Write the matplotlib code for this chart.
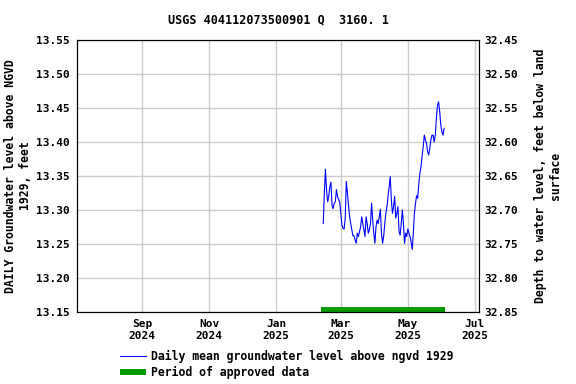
import pandas as pd
import matplotlib
matplotlib.use('Agg')
import matplotlib.pyplot as plt
import matplotlib.dates as mdates

plt.rcParams['font.family'] = 'DejaVu Sans Mono'
plt.rcParams['font.weight'] = 'bold'
plt.rcParams['axes.labelweight'] = 'bold'
plt.rcParams['axes.titleweight'] = 'bold'
plt.rcParams['font.size'] = 8

# daily mean groundwater level (ft above NGVD 1929), starting 2025-02-13
start_date = '2025-02-13'
levels = [
    13.280, 13.325, 13.360, 13.329, 13.312, 13.320, 13.334, 13.341, 13.307, 13.302,
    13.310, 13.312, 13.330, 13.320, 13.315, 13.312, 13.295, 13.278, 13.273, 13.272,
    13.288, 13.342, 13.325, 13.307, 13.290, 13.280, 13.271, 13.262, 13.262, 13.256,
    13.251, 13.266, 13.261, 13.268, 13.275, 13.290, 13.280, 13.271, 13.261, 13.290,
    13.280, 13.266, 13.271, 13.280, 13.310, 13.285, 13.266, 13.251, 13.275, 13.285,
    13.280, 13.290, 13.301, 13.266, 13.251, 13.261, 13.280, 13.295, 13.305, 13.320,
    13.334, 13.349, 13.315, 13.295, 13.305, 13.320, 13.288, 13.295, 13.305, 13.268,
    13.263, 13.280, 13.300, 13.280, 13.251, 13.266, 13.261, 13.272, 13.266, 13.261,
    13.253, 13.242, 13.266, 13.295, 13.310, 13.321, 13.317, 13.339, 13.354, 13.364,
    13.379, 13.393, 13.410, 13.403, 13.398, 13.386, 13.381, 13.391, 13.403, 13.410,
    13.410, 13.400, 13.410, 13.435, 13.454, 13.459, 13.445, 13.425, 13.415, 13.410,
    13.420,
]
dates = pd.date_range(start_date, periods=len(levels), freq='D')

approved_start = pd.Timestamp('2025-02-11')
approved_end = pd.Timestamp('2025-06-04')

land_offset = 46.0  # depth = land_offset - level
x_min, x_max = pd.Timestamp('2024-07-04'), pd.Timestamp('2025-07-05')
y_ticks = [13.15, 13.20, 13.25, 13.30, 13.35, 13.40, 13.45, 13.50, 13.55]
depth_ticks = [32.45, 32.50, 32.55, 32.60, 32.65, 32.70, 32.75, 32.80, 32.85]
x_ticks = ['2024-09-01', '2024-11-01', '2025-01-01', '2025-03-01', '2025-05-01', '2025-07-01']

fig = plt.figure(figsize=(5.76, 3.84), dpi=100)
ax = fig.add_axes([0.134, 0.1875, 0.698, 0.7085])

ax.plot(dates, levels, color='#0000ff', lw=0.8, label='Daily mean groundwater level above ngvd 1929')
ax.plot([approved_start, approved_end], [13.1533, 13.1533], color='#009900', lw=4.3,
        solid_capstyle='butt', label='Period of approved data')

ax.set_xlim(x_min, x_max)
ax.set_ylim(13.15, 13.55)
ax.set_yticks(y_ticks)
ax.set_yticklabels([f'{v:.2f}' for v in y_ticks])
ax.set_xticks(pd.to_datetime(x_ticks))
ax.xaxis.set_major_formatter(mdates.DateFormatter('%b\n%Y'))
ax.grid(True, color='#cccccc', lw=1)
ax.tick_params(length=0, pad=5)
ax.set_ylabel('DAILY Groundwater level above NGVD\n1929, feet', fontsize=8.3, labelpad=3)
ax.set_title('USGS 404112073500901 Q  3160. 1', fontsize=8.5, pad=12)

ax2 = ax.twinx()
ax2.set_ylim(land_offset - 13.15, land_offset - 13.55)
ax2.set_yticks(depth_ticks)
ax2.set_yticklabels([f'{v:.2f}' for v in depth_ticks])
ax2.tick_params(length=0, pad=4)
ax2.set_ylabel('Depth to water level, feet below land\nsurface', fontsize=8.3, labelpad=11)

handles, labels = ax.get_legend_handles_labels()
fig.legend(handles, labels, loc='upper left', bbox_to_anchor=(0.2, 0.1), frameon=False,
           handlelength=2.3, handletextpad=0.4, borderaxespad=0, labelspacing=0.25, fontsize=8.3)

plt.savefig('out.png', dpi=100)
